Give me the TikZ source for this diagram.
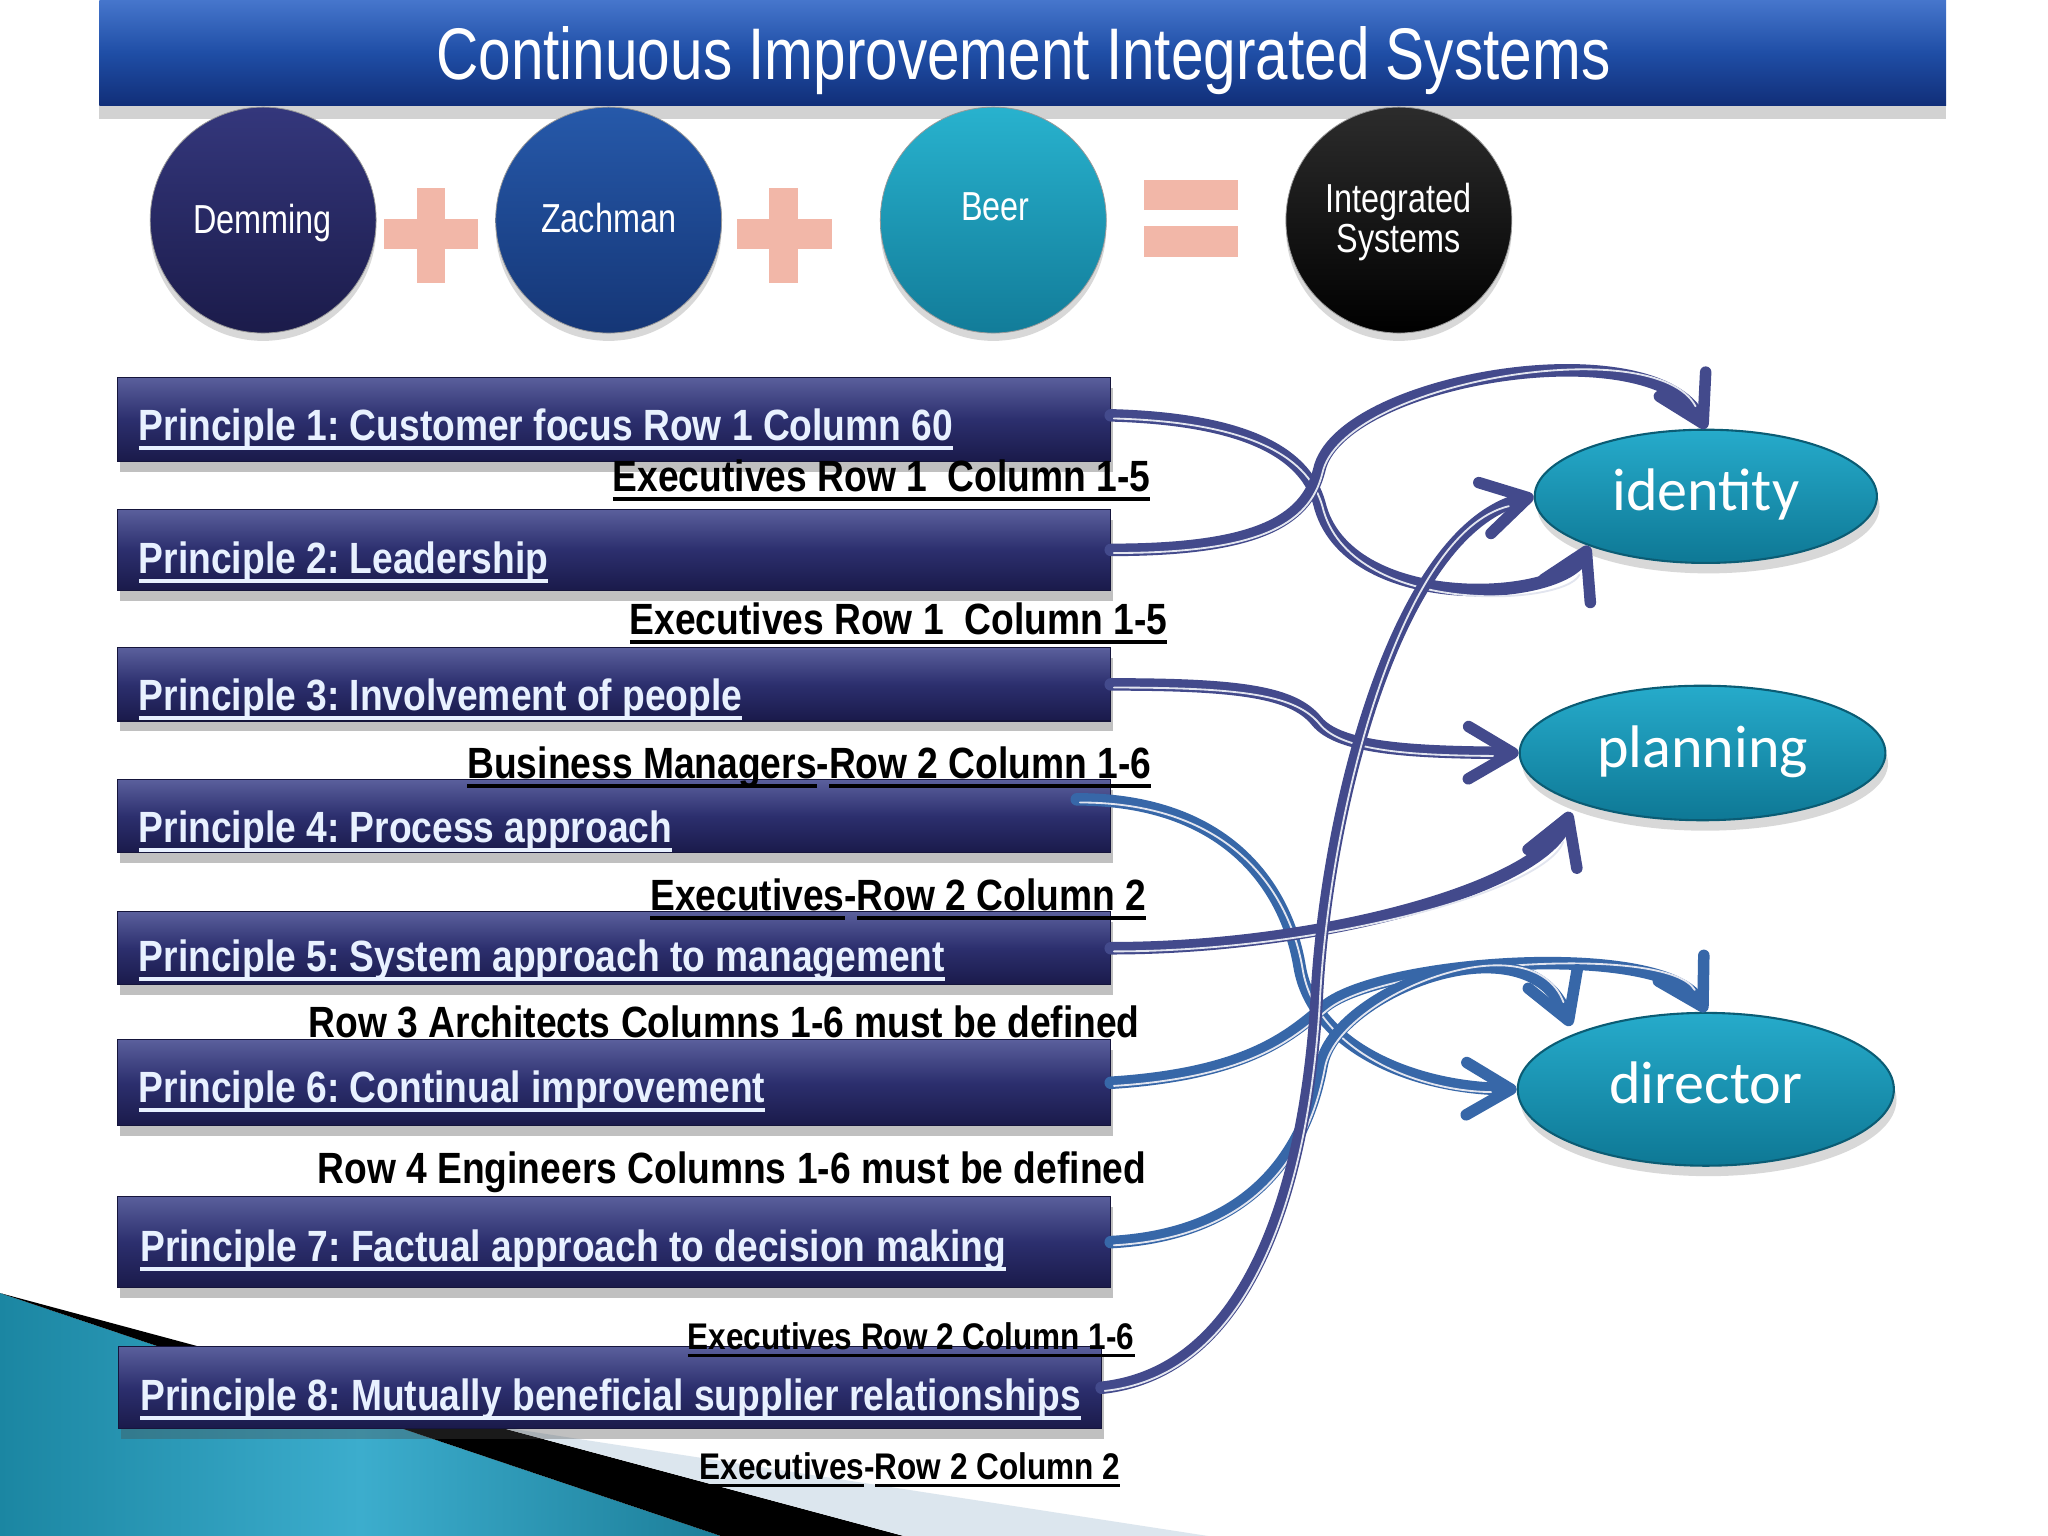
\documentclass[tikz,border=0pt]{standalone}
\usepackage{fontspec}
\setmainfont{Liberation Sans}
\newfontfamily\narrowfont[FakeStretch=0.8]{Liberation Sans}
\newfontfamily\bnarrow[FakeStretch=0.85]{Liberation Sans Bold}
\newfontfamily\calib{Carlito}
\usetikzlibrary{arrows.meta,shapes.geometric,shadows}
\frenchspacing
\definecolor{barTop}{HTML}{4676CC}
\definecolor{barMid}{HTML}{1F4EA6}
\definecolor{barBot}{HTML}{112E78}
\definecolor{boxTop}{HTML}{5A5F9C}
\definecolor{boxMid}{HTML}{2C2F6E}
\definecolor{boxBot}{HTML}{1A1A4A}
\definecolor{ptxt}{HTML}{E8F1FF}
\definecolor{plusPink}{HTML}{F2B7A8}
\definecolor{ellTop}{HTML}{26ABCB}
\definecolor{ellBot}{HTML}{0E7895}
\definecolor{ellEdge}{HTML}{0B5C74}
\definecolor{lineDark}{HTML}{434A8C}
\definecolor{lineSteel}{HTML}{3767A8}
\definecolor{stripeCol}{HTML}{E2E5EF}
\definecolor{tealA}{HTML}{1B86A2}
\definecolor{tealB}{HTML}{3CADCD}
\definecolor{tealC}{HTML}{1C7E99}
\definecolor{paleBlue}{HTML}{DCE6EE}
\definecolor{demTop}{HTML}{34377C}
\definecolor{demBot}{HTML}{1B1B4A}
\definecolor{zacTop}{HTML}{2659AA}
\definecolor{zacBot}{HTML}{153676}
\definecolor{beerTop}{HTML}{28B2CE}
\definecolor{beerBot}{HTML}{127C99}
\definecolor{intTop}{HTML}{2C2C2C}
\newcommand\myul[1]{\setbox0\hbox{#1}\rlap{\rule[-0.215em]{\wd0}{0.084em}}\box0}
\begin{document}
\begin{tikzpicture}[x=0.5pt,y=-0.5pt,
  pbox/.style={rectangle, draw=boxBot!80!black, line width=0.4pt, inner sep=0pt,
    top color=boxTop, bottom color=boxBot, middle color=boxMid,
    drop shadow={shadow xshift=1pt, shadow yshift=-4pt, opacity=0.35, fill=black!70}},
  ptext/.style={inner sep=0pt, text=ptxt, font=\bnarrow\fontsize{16.75}{20}\selectfont},
  lbl/.style={inner sep=0pt, text=black, font=\bnarrow\fontsize{16.75}{20}\selectfont},
  lbls/.style={inner sep=0pt, text=black, font=\bnarrow\fontsize{14.2}{17}\selectfont},
  circ/.style={circle, minimum size=86.5pt, inner sep=0pt, draw=black!40, line width=0.3pt,
    drop shadow={shadow xshift=0pt, shadow yshift=-3pt, opacity=0.3}},
  ctext/.style={inner sep=0pt, text=white, font=\narrowfont\fontsize{15.5}{18}\selectfont},
  ell/.style={ellipse, draw=ellEdge, line width=0.8pt, inner sep=0pt,
    top color=ellTop, bottom color=ellBot, text=white,
    font=\calib\fontsize{23}{27}\selectfont, text height=15.5pt, text depth=4.5pt,
    drop shadow={shadow xshift=1pt, shadow yshift=-4pt, opacity=0.3}},
  conn/.style={line width=4.8pt, line cap=round, line join=round,
    arrows={-Straight Barb[length=17pt,width=20pt,line width=4.4pt,round]}},
  cdark/.style={conn, draw=lineDark},
  csteel/.style={conn, draw=lineSteel},
  stripe/.style={draw=stripeCol, line width=0.7pt, line cap=round, shorten >=11pt,
    transform canvas={shift={(1.2pt,-1.2pt)}}}]
\useasboundingbox (0,0) rectangle (1568,1176);
\fill[white] (0,0) rectangle (1568,1176);
% background decoration
\shade[left color=tealA, right color=tealC, middle color=tealB] (0,990) -- (552,1176) -- (0,1176) -- cycle;
\fill[black] (0,990) -- (692,1176) -- (552,1176) -- cycle;
\fill[paleBlue] (380,1092) -- (925,1176) -- (692,1176) -- cycle;
% title bar
\node[rectangle, minimum width=707pt, minimum height=40.5pt, inner sep=0pt,
  top color=barTop, bottom color=barBot, middle color=barMid,
  drop shadow={shadow xshift=0pt, shadow yshift=-5pt, opacity=0.35}] (bar) at (783,40.5) {};
\node[anchor=base, inner sep=0pt, text=white, font=\narrowfont\fontsize{28}{32}\selectfont] (title) at (783.5,61) {Continuous Improvement Integrated Systems};
% circles
\node[circ, top color=demTop, bottom color=demBot] (demming) at (201.5,168.5) {};
\node[circ, top color=zacTop, bottom color=zacBot] (zachman) at (466,168.5) {};
\node[circ, top color=beerTop, bottom color=beerBot] (beer) at (760.5,168.5) {};
\node[circ, top color=intTop, bottom color=black] (integ) at (1071,168.5) {};
\node[ctext, anchor=base] (tdem) at (201,179) {Demming};
\node[ctext, anchor=base] (tzach) at (466,178) {Zachman};
\node[ctext, anchor=base] (tbeer) at (762,168.5) {Beer};
\node[ctext, anchor=base] (tint1) at (1071,163) {Integrated};
\node[ctext, anchor=base] (tint2) at (1071,193) {Systems};
% plus and equal signs
\fill[plusPink] (319,144) rectangle (341,217);
\fill[plusPink] (294,168) rectangle (366,191);
\fill[plusPink] (589,144) rectangle (611,217);
\fill[plusPink] (564,168) rectangle (637,191);
\fill[plusPink] (876,138) rectangle (948,161);
\fill[plusPink] (876,173) rectangle (948,197);
% principle boxes
\node[pbox, minimum width=380pt, minimum height=32pt] (p1) at (470,321) {};
\node[pbox, minimum width=380pt, minimum height=31pt] (p2) at (470,421) {};
\node[pbox, minimum width=380pt, minimum height=28pt] (p3) at (470,524) {};
\node[pbox, minimum width=380pt, minimum height=28pt] (p4) at (470,625) {};
\node[pbox, minimum width=380pt, minimum height=28pt] (p5) at (470,726) {};
\node[pbox, minimum width=380pt, minimum height=33pt] (p6) at (470,829) {};
\node[pbox, minimum width=380pt, minimum height=35pt] (p7) at (470,951) {};
\node[pbox, minimum width=376pt, minimum height=31.5pt] (p8) at (467,1062.5) {};
\node[ptext, anchor=base west] (t1) at (106,337) {\myul{Principle 1: Customer focus Row 1 Column 60}};
\node[ptext, anchor=base west] (t2) at (106,439) {\myul{Principle 2: Leadership}};
\node[ptext, anchor=base west] (t3) at (106,544) {\myul{Principle 3: Involvement of people}};
\node[ptext, anchor=base west] (t4) at (106,645) {\myul{Principle 4: Process approach}};
\node[ptext, anchor=base west] (t5) at (106,744) {\myul{Principle 5: System approach to management}};
\node[ptext, anchor=base west] (t6) at (106,844) {\myul{Principle 6: Continual improvement}};
\node[ptext, anchor=base west] (t7) at (107,966) {\myul{Principle 7: Factual approach to decision making}};
\node[ptext, anchor=base west] (t8) at (107,1080) {\myul{Principle 8: Mutually beneficial supplier relationships}};
% labels
\node[lbl, anchor=base east] (l1) at (881,376) {\myul{Executives Row 1\ \ Column 1-5}};
\node[lbl, anchor=base east] (l2) at (894,485.5) {\myul{Executives Row 1\ \ Column 1-5}};
\node[lbl, anchor=base east] (l3) at (882,596) {\myul{Business Managers}-\myul{Row 2 Column 1-6}};
\node[lbl, anchor=base east] (l4) at (878,697) {\myul{Executives}-\myul{Row 2 Column 2}};
\node[lbl, anchor=base east] (l5) at (873,794) {Row 3 Architects Columns 1-6 must be defined};
\node[lbl, anchor=base east] (l6) at (878,906) {Row 4 Engineers Columns 1-6 must be defined};
\node[lbls, anchor=base east] (l7) at (869,1033) {\myul{Executives Row 2 Column 1-6}};
\node[lbls, anchor=base east] (l8) at (858,1132.7) {\myul{Executives}-\myul{Row 2 Column 2}};
% target ellipses
\node[ell, minimum width=131pt, minimum height=51pt] (identity) at (1306,380) {identity};
\node[ell, minimum width=140pt, minimum height=51.5pt] (planning) at (1303.5,576.5) {planning};
\node[ell, minimum width=144pt, minimum height=58.5pt] (director) at (1306,834) {director};
% connectors (thick line with arrow, then light stripe)
\draw[cdark] ([yshift=1.5pt]p1.east) .. controls (960,321) and (1000,350) .. (1010,385)
  .. controls (1030,470) and (1195,462) .. (identity.203);
\draw[stripe] ([yshift=1.5pt]p1.east) .. controls (960,321) and (1000,350) .. (1010,385)
  .. controls (1030,470) and (1195,462) .. (identity.203);
\draw[cdark] (p2.east) .. controls (960,421) and (1000,400) .. (1010,360)
  .. controls (1025,290) and (1265,250) .. (identity.north);
\draw[stripe] (p2.east) .. controls (960,421) and (1000,400) .. (1010,360)
  .. controls (1025,290) and (1265,250) .. (identity.north);
\draw[cdark] (p3.east) .. controls (950,524) and (990,530) .. (1008,552)
  .. controls (1025,573) and (1080,576) .. (planning.west);
\draw[stripe] (p3.east) .. controls (950,524) and (990,530) .. (1008,552)
  .. controls (1025,573) and (1080,576) .. (planning.west);
\draw[csteel] ([xshift=-13pt,yshift=6.5pt]p4.east) .. controls (940,612) and (985,680) .. (995,740)
  .. controls (1005,800) and (1080,833) .. (director.west);
\draw[stripe] ([xshift=-13pt,yshift=6.5pt]p4.east) .. controls (940,612) and (985,680) .. (995,740)
  .. controls (1005,800) and (1080,833) .. (director.west);
\draw[cdark] (p5.east) .. controls (1010,726) and (1180,680) .. ([xshift=-5.5pt,yshift=-2.5pt]planning.204);
\draw[stripe] (p5.east) .. controls (1010,726) and (1180,680) .. ([xshift=-5.5pt,yshift=-2.5pt]planning.204);
\draw[csteel] (p6.east) .. controls (960,822) and (990,790) .. (1015,770)
  .. controls (1060,735) and (1275,720) .. (director.north);
\draw[stripe] (p6.east) .. controls (960,822) and (990,790) .. (1015,770)
  .. controls (1060,735) and (1275,720) .. (director.north);
\draw[csteel] (p7.east) .. controls (960,945) and (1000,880) .. (1012,815)
  .. controls (1022,760) and (1170,700) .. ([xshift=-4pt,yshift=2pt]director.155);
\draw[stripe] (p7.east) .. controls (960,945) and (1000,880) .. (1012,815)
  .. controls (1022,760) and (1170,700) .. ([xshift=-4pt,yshift=2pt]director.155);
\draw[cdark] (p8.east) .. controls (960,1050) and (1000,900) .. (1008,766)
  .. controls (1015,620) and (1070,405) .. (identity.west);
\draw[stripe] (p8.east) .. controls (960,1050) and (1000,900) .. (1008,766)
  .. controls (1015,620) and (1070,405) .. (identity.west);
\end{tikzpicture}
\end{document}
